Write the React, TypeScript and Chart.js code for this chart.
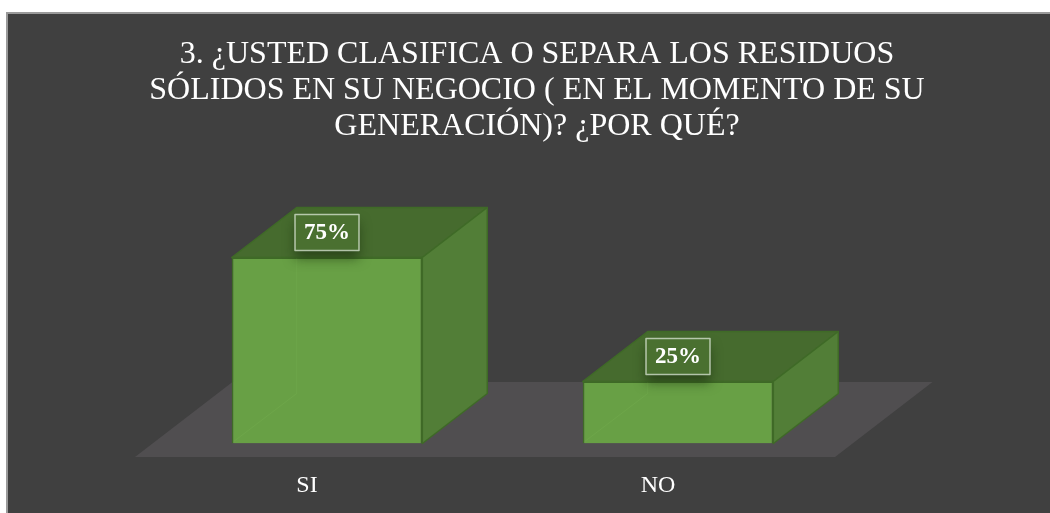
import React, { useEffect, useRef } from 'react';
import { Chart, registerables } from 'chart.js';

Chart.register(...registerables);

const titleLines = [
  '3. ¿USTED CLASIFICA O SEPARA LOS RESIDUOS',
  'SÓLIDOS EN SU NEGOCIO ( EN EL MOMENTO DE SU',
  'GENERACIÓN)? ¿POR QUÉ?',
];
const categories = ['SI', 'NO'];
const values = [75, 25];
const valueLabels = ['75%', '25%'];

const BG = '#404040';
const FLOOR = '#504e50';
const FRONT = '#68a045';
const TOP = '#466b2e';
const SIDE = '#527e37';
const EDGE = '#3f6a27';
const DEPTH_X = 65;
const DEPTH_Y = -50;

const scenePlugin = {
  id: 'scene3d',
  beforeDraw(chart: any) {
    const { ctx, width, height } = chart;
    ctx.save();
    ctx.fillStyle = '#ffffff';
    ctx.fillRect(0, 0, width, height);
    ctx.fillStyle = '#9a9a9a';
    ctx.fillRect(6, 12, width - 6, height - 12);
    ctx.fillStyle = BG;
    ctx.fillRect(8, 14, width - 8, height - 14);
    ctx.fillStyle = '#ffffff';
    ctx.font = '32px "Liberation Serif", "Times New Roman", serif';
    ctx.textAlign = 'center';
    ctx.textBaseline = 'alphabetic';
    titleLines.forEach((line, i) => ctx.fillText(line, 537, 63 + i * 36));
    ctx.restore();
  },
  beforeDatasetsDraw(chart: any) {
    const { ctx, chartArea } = chart;
    const base = chart.scales.y.getPixelForValue(0);
    const fy = base + 13.5;
    const fl = chartArea.left - 16.5;
    const fr = chartArea.right - 18.5;
    const ddx = DEPTH_X * 1.5;
    const ddy = DEPTH_Y * 1.5;
    ctx.save();
    ctx.fillStyle = FLOOR;
    ctx.beginPath();
    ctx.moveTo(fl, fy);
    ctx.lineTo(fr, fy);
    ctx.lineTo(fr + ddx, fy + ddy);
    ctx.lineTo(fl + ddx, fy + ddy);
    ctx.closePath();
    ctx.fill();
    ctx.restore();
  },
  afterDatasetsDraw(chart: any) {
    const { ctx } = chart;
    const meta = chart.getDatasetMeta(0);
    meta.data.forEach((bar: any, i: number) => {
      const { x, y, base, width } = bar.getProps(['x', 'y', 'base', 'width'], true);
      const l = x - width / 2;
      const r = x + width / 2;
      ctx.save();
      // faint hidden edges visible through the front face
      ctx.strokeStyle = 'rgba(140,195,100,0.14)';
      ctx.lineWidth = 1;
      ctx.beginPath();
      ctx.moveTo(l + DEPTH_X, y + DEPTH_Y);
      ctx.lineTo(l + DEPTH_X, base + DEPTH_Y);
      ctx.lineTo(l + 2, base - 2);
      ctx.stroke();

      ctx.lineWidth = 1.5;
      ctx.strokeStyle = EDGE;
      ctx.lineJoin = 'round';
      // top face
      ctx.fillStyle = TOP;
      ctx.beginPath();
      ctx.moveTo(l, y);
      ctx.lineTo(r, y);
      ctx.lineTo(r + DEPTH_X, y + DEPTH_Y);
      ctx.lineTo(l + DEPTH_X, y + DEPTH_Y);
      ctx.closePath();
      ctx.fill();
      ctx.stroke();
      // side face
      ctx.fillStyle = SIDE;
      ctx.beginPath();
      ctx.moveTo(r, y);
      ctx.lineTo(r + DEPTH_X, y + DEPTH_Y);
      ctx.lineTo(r + DEPTH_X, base + DEPTH_Y);
      ctx.lineTo(r, base);
      ctx.closePath();
      ctx.fill();
      ctx.stroke();

      // value label
      const bw = 64;
      const bh = 36;
      const cx = x;
      const cy = y + DEPTH_Y / 2;
      ctx.save();
      ctx.shadowColor = 'rgba(20,40,10,0.55)';
      ctx.shadowBlur = 12;
      ctx.shadowOffsetY = 8;
      ctx.fillStyle = '#4a7030';
      ctx.fillRect(cx - bw / 2, cy - bh / 2, bw, bh);
      ctx.restore();
      ctx.strokeStyle = 'rgba(230,240,225,0.7)';
      ctx.lineWidth = 1.5;
      ctx.strokeRect(cx - bw / 2, cy - bh / 2, bw, bh);
      ctx.fillStyle = '#ffffff';
      ctx.font = 'bold 23px "Liberation Serif", "Times New Roman", serif';
      ctx.textAlign = 'center';
      ctx.textBaseline = 'middle';
      ctx.fillText(valueLabels[i], cx, cy + 1);
      ctx.restore();
    });
  },
};

export default function App() {
  const ref = useRef<HTMLCanvasElement | null>(null);
  useEffect(() => {
    if (!ref.current) return;
    const chart = new Chart(ref.current, {
      type: 'bar',
      data: {
        labels: categories,
        datasets: [
          {
            data: values,
            backgroundColor: FRONT,
            borderColor: EDGE,
            borderWidth: 1.5,
            barPercentage: 0.543,
            categoryPercentage: 1,
          },
        ],
      },
      options: {
        responsive: false,
        animation: false,
        layout: { padding: { left: 151.5, right: 196.5, top: 195.5, bottom: 0 } },
        plugins: {
          legend: { display: false },
          title: { display: false },
          tooltip: { enabled: false },
        },
        scales: {
          x: {
            grid: { display: false, drawTicks: false },
            border: { display: false },
            ticks: {
              color: '#ffffff',
              font: { family: '"Liberation Serif", "Times New Roman", serif', size: 24 },
              padding: 28,
              labelOffset: -20,
            },
            afterFit(scale: any) {
              scale.height = 69.5;
            },
          },
          y: { display: false, min: 0, max: 100 },
        },
      },
      plugins: [scenePlugin],
    } as any);
    return () => chart.destroy();
  }, []);
  return (
    <div style={{ position: 'fixed', left: 0, top: 0, width: 1050, height: 513 }}>
      <canvas ref={ref} width={1050} height={513} style={{ display: 'block' }} />
    </div>
  );
}
